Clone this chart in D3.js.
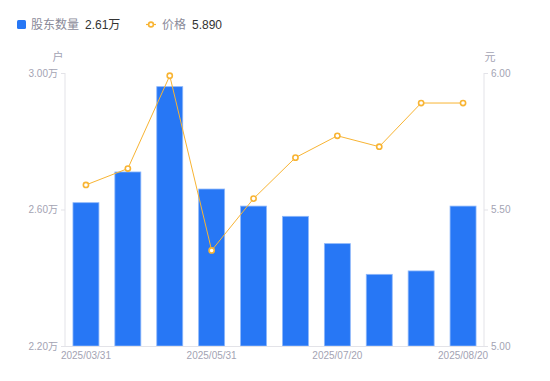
<!DOCTYPE html>
<html><head><meta charset="utf-8">
<script src="https://cdn.jsdelivr.net/npm/d3@7"></script>
<style>body{margin:0;background:#fff;} svg text{font-family:"Liberation Sans","Noto Sans CJK SC",sans-serif;}</style>
</head><body><svg id="c" width="550" height="381"></svg>
<script>
const categories = ["2025/03/31","2025/04/20","2025/04/30","2025/05/31","2025/06/20","2025/06/30","2025/07/20","2025/07/31","2025/08/10","2025/08/20"];
const holders = [2.62,2.71,2.96,2.66,2.61,2.58,2.50,2.41,2.42,2.61];
const prices = [5.59,5.65,5.99,5.35,5.54,5.69,5.77,5.73,5.89,5.89];
const leftTicks = [2.20,2.60,3.00];
const rightTicks = [5.00,5.50,6.00];
const xLabelIdx = [0,3,6,9];

const svg = d3.select("#c");
const L=65,R=484,T=73,B=346;
const x = d3.scaleBand().domain(categories).range([L,R]).paddingInner(0.38).paddingOuter(0.19);
const yL = d3.scaleLinear().domain([2.2,3.0]).range([B,T]);
const yR = d3.scaleLinear().domain([5.0,6.0]).range([B,T]);
const axisCol="#e3e3e8", txtCol="#a3a3b3";

const gl = svg.append("g").attr("transform",`translate(${L},0)`)
  .call(d3.axisLeft(yL).tickValues(leftTicks).tickSize(4).tickPadding(3).tickFormat(d=>d3.format(".2f")(d)+"万"));
const gr = svg.append("g").attr("transform",`translate(${R},0)`)
  .call(d3.axisRight(yR).tickValues(rightTicks).tickSize(4).tickPadding(3).tickFormat(d3.format(".2f")));
const gx = svg.append("g").attr("transform",`translate(0,${B})`)
  .call(d3.axisBottom(x).tickValues(xLabelIdx.map(i=>categories[i])).tickSize(0).tickPadding(6));
[gl,gr,gx].forEach(g=>{
  g.selectAll(".tick line").attr("stroke",axisCol);
  g.selectAll("text").attr("fill",txtCol).style("font-size","10px").style("font-family","'Liberation Sans','Noto Sans CJK SC',sans-serif");
  g.select(".domain").remove();
});
svg.append("line").attr("x1",L).attr("x2",L).attr("y1",T).attr("y2",B).attr("stroke",axisCol);
svg.append("line").attr("x1",R).attr("x2",R).attr("y1",T).attr("y2",B).attr("stroke",axisCol);

svg.append("g").selectAll("rect").data(holders).join("rect")
  .attr("x",(d,i)=>x(categories[i])).attr("width",x.bandwidth())
  .attr("y",d=>yL(d)).attr("height",d=>B-yL(d))
  .attr("fill","#2777f5").attr("stroke","#8fb8fa").attr("stroke-width",0.8);
svg.append("line").attr("x1",L).attr("x2",R).attr("y1",B+0.5).attr("y2",B+0.5).attr("stroke",axisCol);

const line = d3.line().x((d,i)=>x(categories[i])+x.bandwidth()/2).y(d=>yR(d));
svg.append("path").datum(prices).attr("d",line).attr("fill","none").attr("stroke","#f8b433").attr("stroke-width",1);
svg.append("g").selectAll("circle").data(prices).join("circle")
  .attr("cx",(d,i)=>x(categories[i])+x.bandwidth()/2).attr("cy",d=>yR(d)).attr("r",2.6)
  .attr("fill","#fff").attr("stroke","#f8b433").attr("stroke-width",1.6);

svg.append("text").attr("x",58).attr("y",61).attr("text-anchor","middle").attr("fill",txtCol).style("font-size","11px").text("户");
svg.append("text").attr("x",490).attr("y",61).attr("text-anchor","middle").attr("fill",txtCol).style("font-size","11px").text("元");

const lg = svg.append("g").style("font-size","12px");
lg.append("rect").attr("x",17).attr("y",20).attr("width",9).attr("height",9).attr("rx",1.5).attr("fill","#2777f5");
lg.append("text").attr("x",31).attr("y",29).attr("fill","#8a8a99").text("股东数量");
lg.append("text").attr("x",85).attr("y",29).attr("fill","#333").text("2.61万");
lg.append("line").attr("x1",146).attr("x2",156).attr("y1",24.5).attr("y2",24.5).attr("stroke","#f8b433").attr("stroke-width",1.2);
lg.append("circle").attr("cx",151).attr("cy",24.5).attr("r",2.4).attr("fill","#fff").attr("stroke","#f8b433").attr("stroke-width",1.6);
lg.append("text").attr("x",162).attr("y",29).attr("fill","#8a8a99").text("价格");
lg.append("text").attr("x",192).attr("y",29).attr("fill","#333").text("5.890");
</script></body></html>
